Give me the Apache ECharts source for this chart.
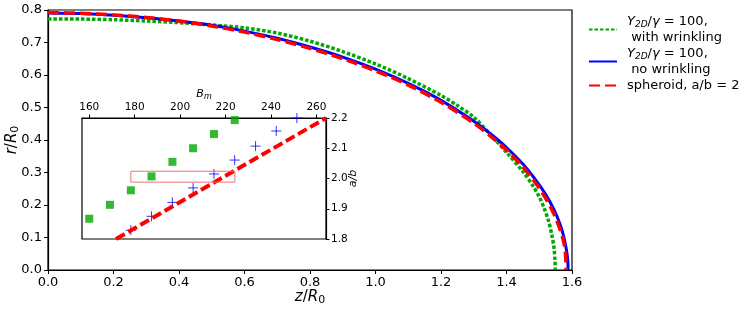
<!DOCTYPE html>
<html>
<head>
<meta charset="utf-8">
<script src="https://cdn.jsdelivr.net/npm/echarts@6/dist/echarts.min.js"></script>
<style>html,body{margin:0;padding:0;background:#fff}#c{width:748px;height:310px}</style>
</head>
<body>
<div id="c"></div>
<script>
// ---- main panel: shape profiles r/R0 vs z/R0 ----
const zWrinkle = [0, 0.1, 0.2, 0.3, 0.4, 0.5, 0.6, 0.7, 0.8, 0.9, 1.0, 1.1, 1.2, 1.25, 1.3, 1.35, 1.4, 1.45, 1.48, 1.50, 1.515, 1.528, 1.538, 1.545, 1.548, 1.549];
const rWrinkle = [0.772, 0.772, 0.770, 0.766, 0.761, 0.754, 0.745, 0.729, 0.704, 0.672, 0.634, 0.589, 0.537, 0.506, 0.470, 0.418, 0.362, 0.303, 0.260, 0.225, 0.190, 0.152, 0.110, 0.068, 0.030, 0.0];

const zNoWrinkle = [0, 0.1, 0.2, 0.3, 0.4, 0.5, 0.6, 0.7, 0.8, 0.9, 1.0, 1.1, 1.2, 1.3, 1.35, 1.4, 1.45, 1.49, 1.52, 1.545, 1.563, 1.575, 1.583, 1.587, 1.588];
const rNoWrinkle = [0.791, 0.789, 0.784, 0.776, 0.766, 0.753, 0.735, 0.713, 0.686, 0.655, 0.618, 0.574, 0.522, 0.458, 0.420, 0.377, 0.326, 0.276, 0.232, 0.186, 0.142, 0.102, 0.062, 0.030, 0.0];

const zSpheroid = [0, 0.1, 0.2, 0.3, 0.4, 0.5, 0.6, 0.7, 0.8, 0.9, 1.0, 1.1, 1.2, 1.3, 1.35, 1.4, 1.45, 1.49, 1.52, 1.545, 1.563, 1.575, 1.580, 1.582];
const rSpheroid = [0.792, 0.790, 0.785, 0.777, 0.766, 0.751, 0.732, 0.709, 0.682, 0.650, 0.613, 0.569, 0.516, 0.452, 0.413, 0.369, 0.317, 0.266, 0.220, 0.172, 0.126, 0.085, 0.050, 0.0];

const mainXTicks = [0, 0.2, 0.4, 0.6, 0.8, 1.0, 1.2, 1.4, 1.6];
const mainYTicks = [0, 0.1, 0.2, 0.3, 0.4, 0.5, 0.6, 0.7, 0.8];

// ---- inset: a/b vs B_m ----
const bmWrinkle = [160, 169.1, 178.3, 187.4, 196.6, 205.7, 214.9, 224.0];
const abWrinkle = [1.867, 1.913, 1.961, 2.007, 2.055, 2.100, 2.147, 2.193];
const bmNoWrinkle = [178.3, 187.4, 196.6, 205.7, 214.9, 224.0, 233.2, 242.3, 251.4];
const abNoWrinkle = [1.829, 1.875, 1.921, 1.969, 2.015, 2.061, 2.107, 2.157, 2.200];
const bmFitLine = [171.8, 264.2];
const abFitLine = [1.8, 2.2];
const bmBox = [178.3, 224.1, 224.1, 178.3, 178.3];
const abBox = [1.988, 1.988, 2.024, 2.024, 1.988];
const insetXTicks = [160, 180, 200, 220, 240, 260];
const insetYTicks = [1.8, 1.9, 2.0, 2.1, 2.2];

const pairs = (xs, ys) => xs.map((x, i) => [x, ys[i]]);
const FONT = 'DejaVu Sans';
const GREEN = '#00a800', BLUE = '#0000ff', RED = '#ff0000';

const legendLabels = {
  wr: '{sp|}{i|Y}{s|2D}{n|/}{i|γ}{n| = 100,}\n{sp|}{n| with wrinkling}',
  nowr: '{sp|}{i|Y}{s|2D}{n|/}{i|γ}{n| = 100,}\n{sp|}{n| no wrinkling}',
  sph: '{sp|}{n|spheroid, a/b = 2}'
};

const chart = echarts.init(document.getElementById('c'), null, {renderer: 'canvas'});
chart.setOption({
  animation: false,
  backgroundColor: '#fff',
  textStyle: {fontFamily: FONT},
  grid: [
    {left: 48, top: 10, right: 176, bottom: 40, show: true, borderColor: '#000', borderWidth: 1.2, backgroundColor: 'transparent', containLabel: false, outerBoundsMode: 'none'},
    {left: 82, top: 118, width: 244, height: 121, show: true, borderColor: '#000', borderWidth: 1.2, backgroundColor: '#fff', containLabel: false, outerBoundsMode: 'none'}
  ],
  xAxis: [
    {gridIndex: 0, type: 'value', min: 0, max: 1.6, interval: 0.2,
     axisLine: {show: true, lineStyle: {color: '#000', width: 1.2}},
     axisTick: {show: true, length: 4, lineStyle: {color: '#000'}},
     splitLine: {show: false},
     axisLabel: {color: '#000', fontSize: 13, margin: 6, fontFamily: FONT, formatter: v => v.toFixed(1)},
     name: '{i|z}{n|/}{i|R}{s|0}', nameLocation: 'middle', nameGap: 18, nameMoveOverlap: false,
     nameTextStyle: {rich: {
       i: {fontStyle: 'italic', fontSize: 15, fontFamily: FONT, color: '#000', lineHeight: 18},
       n: {fontSize: 15, fontFamily: FONT, color: '#000', lineHeight: 18},
       s: {fontSize: 11, fontFamily: FONT, color: '#000', lineHeight: 12, verticalAlign: 'bottom'}
     }}},
    {gridIndex: 1, type: 'value', position: 'top', min: 156.8, max: 264.2,
     axisLine: {show: true, lineStyle: {color: '#000', width: 1.2}},
     axisTick: {show: true, length: 3.5, customValues: insetXTicks, lineStyle: {color: '#000'}},
     splitLine: {show: false},
     axisLabel: {color: '#000', fontSize: 10.5, margin: 5, fontFamily: FONT, customValues: insetXTicks, formatter: v => String(Math.round(v))},
     name: '{i|B}{s|m}', nameLocation: 'middle', nameGap: 17, nameMoveOverlap: false,
     nameTextStyle: {rich: {
       i: {fontStyle: 'italic', fontSize: 11, fontFamily: FONT, color: '#000', lineHeight: 14},
       s: {fontStyle: 'italic', fontSize: 8, fontFamily: FONT, color: '#000', lineHeight: 9, verticalAlign: 'bottom'}
     }}}
  ],
  yAxis: [
    {gridIndex: 0, type: 'value', min: 0, max: 0.8, interval: 0.1,
     axisLine: {show: true, lineStyle: {color: '#000', width: 1.2}},
     axisTick: {show: true, length: 4, lineStyle: {color: '#000'}},
     splitLine: {show: false},
     axisLabel: {color: '#000', fontSize: 13, margin: 6, fontFamily: FONT, formatter: v => v.toFixed(1)},
     name: '{i|r}{n|/}{i|R}{s|0}', nameLocation: 'middle', nameGap: 27, nameRotate: 90, nameMoveOverlap: false,
     nameTextStyle: {rich: {
       i: {fontStyle: 'italic', fontSize: 15, fontFamily: FONT, color: '#000', lineHeight: 18},
       n: {fontSize: 15, fontFamily: FONT, color: '#000', lineHeight: 18},
       s: {fontSize: 11, fontFamily: FONT, color: '#000', lineHeight: 12, verticalAlign: 'bottom'}
     }}},
    {gridIndex: 1, type: 'value', position: 'right', min: 1.8, max: 2.2,
     axisLine: {show: true, lineStyle: {color: '#000', width: 1.2}},
     axisTick: {show: true, length: 3.5, customValues: insetYTicks, lineStyle: {color: '#000'}},
     splitLine: {show: false},
     axisLabel: {color: '#000', fontSize: 10.5, margin: 5, fontFamily: FONT, customValues: insetYTicks, formatter: v => v.toFixed(1)},
     name: 'a/b', nameLocation: 'middle', nameGap: 22, nameRotate: 90, nameMoveOverlap: false,
     nameTextStyle: {fontStyle: 'italic', fontSize: 11, fontFamily: FONT, color: '#000'}}
  ],
  legend: {
    orient: 'vertical', left: 583, top: 10, itemGap: 3, itemWidth: 28, itemHeight: 14,
    data: ['wr', 'nowr', 'sph'],
    formatter: n => legendLabels[n],
    itemStyle: {color: 'transparent', borderWidth: 0, opacity: 0},
    textStyle: {rich: {
      sp: {width: 5, lineHeight: 16},
      i: {fontStyle: 'italic', fontSize: 13, fontFamily: FONT, color: '#000', lineHeight: 16},
      n: {fontSize: 13, fontFamily: FONT, color: '#000', lineHeight: 16},
      s: {fontStyle: 'italic', fontSize: 9, fontFamily: FONT, color: '#000', lineHeight: 10, verticalAlign: 'bottom'}
    }}
  },
  series: [
    {name: 'wr', type: 'line', xAxisIndex: 0, yAxisIndex: 0, data: pairs(zWrinkle, rWrinkle),
     symbol: 'none', smooth: 0.3, itemStyle: {color: GREEN},
     lineStyle: {color: GREEN, width: 3.5, type: [3.5, 2], cap: 'butt'}, z: 2},
    {name: 'nowr', type: 'line', xAxisIndex: 0, yAxisIndex: 0, data: pairs(zNoWrinkle, rNoWrinkle),
     symbol: 'none', smooth: 0.3, itemStyle: {color: BLUE},
     lineStyle: {color: BLUE, width: 3, type: 'solid'}, z: 3},
    {name: 'sph', type: 'line', xAxisIndex: 0, yAxisIndex: 0, data: pairs(zSpheroid, rSpheroid),
     symbol: 'none', smooth: 0.3, itemStyle: {color: RED},
     lineStyle: {color: RED, width: 3.5, type: [11, 5], cap: 'butt'}, z: 4},
    {name: 'insetWr', type: 'scatter', xAxisIndex: 1, yAxisIndex: 1, data: pairs(bmWrinkle, abWrinkle),
     symbol: 'rect', symbolSize: 8, itemStyle: {color: GREEN}, z: 5},
    {name: 'insetNoWr', type: 'scatter', xAxisIndex: 1, yAxisIndex: 1, data: pairs(bmNoWrinkle, abNoWrinkle),
     symbol: 'path://M5,0L5,10M0,5L10,5', symbolSize: 10,
     itemStyle: {color: 'none', borderColor: BLUE, borderWidth: 1}, z: 5},
    {name: 'insetFit', type: 'line', xAxisIndex: 1, yAxisIndex: 1, data: pairs(bmFitLine, abFitLine),
     symbol: 'none', lineStyle: {color: RED, width: 4, type: [10, 4], cap: 'butt'}, z: 6},
    {name: 'insetBox', type: 'line', xAxisIndex: 1, yAxisIndex: 1, data: pairs(bmBox, abBox),
     symbol: 'none', lineStyle: {color: '#f07070', width: 1}, z: 7}
  ]
});
</script>
</body>
</html>
